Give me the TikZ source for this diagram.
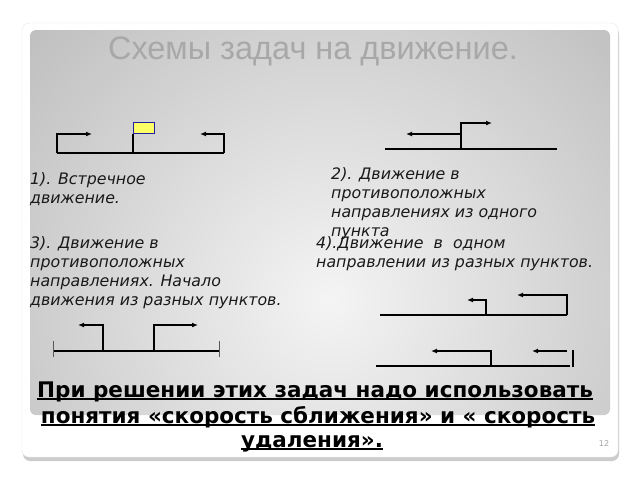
\documentclass[tikz,border=0pt]{standalone}
\usepackage{fontspec}
\setmainfont{DejaVu Sans}[ItalicFont={DejaVu Sans Oblique},BoldFont={DejaVu Sans Bold},BoldItalicFont={DejaVu Sans Bold Oblique}]
\newfontfamily\titlefont{Liberation Sans}
\usetikzlibrary{arrows.meta}
\definecolor{panelout}{HTML}{A3A3A3}
\definecolor{panelin}{HTML}{F4F4F4}
\definecolor{titlegray}{HTML}{A8A8A8}
\definecolor{flagyellow}{HTML}{FFFF66}
\definecolor{flagblue}{HTML}{2020A0}
\newcommand\myul[1]{\setbox0\hbox{#1}\rlap{\rule[-3pt]{\wd0}{1.7pt}}\box0}
\begin{document}
\begin{tikzpicture}[x=1pt,y=-1pt,
  track/.style={line width=1.5pt,black},
  arr/.style={track,-{Latex[length=6pt,width=5pt]}},
  tick/.style={line width=1pt,gray!70!black},
  lbl/.style={font=\fontsize{15.8}{19}\selectfont\itshape,anchor=base west,align=left,inner sep=0pt,text=black!90},
  concl/.style={font=\fontsize{21.5}{25}\selectfont\bfseries,anchor=base,align=center,inner sep=0pt}]
\useasboundingbox (0,0) rectangle (640,480);
\fill[white] (0,0) rectangle (640,480);
% slide card with shadow
\fill[gray!40,rounded corners=7pt] (23,27) rectangle (619,461);
\draw[gray!18,fill=white,rounded corners=7pt] (22,23) rectangle (618,457);
\begin{scope}
  \clip[rounded corners=6pt] (30,30) rectangle (610,415);
  \shade[inner color=panelin,outer color=panelout] (330,300) circle (620);
\end{scope}
% title
\node[font=\titlefont\fontsize{32.5}{34}\selectfont,text=titlegray,inner sep=0pt] (title) at (313,51) {Схемы задач на движение.};

% ---- diagram 1
\coordinate (d1a) at (57,153);
\coordinate (d1b) at (57,134);
\coordinate (d1c) at (92,134);
\coordinate (d1m) at (133,153);
\coordinate (d1e) at (224,153);
\coordinate (d1f) at (224,134);
\coordinate (d1g) at (200,134);
\node[draw=flagblue,fill=flagyellow,line width=1pt,minimum width=21pt,minimum height=11pt,inner sep=0pt,anchor=south west] (flag) at (133,134) {};
\draw[track] (d1a) -- (d1e);
\draw[arr] (d1a) -- (d1b) -- (d1c);
\draw[arr] (d1e) -- (d1f) -- (d1g);
\draw[track] (d1m) -- (flag.south west);

% ---- diagram 2
\coordinate (d2a) at (385,149);
\coordinate (d2b) at (557,149);
\coordinate (d2m) at (461,149);
\coordinate (d2t) at (461,123);
\coordinate (d2r) at (492,123);
\coordinate (d2k) at (461,134);
\coordinate (d2l) at (406,134);
\draw[track] (d2a) -- (d2b);
\draw[arr] (d2m) -- (d2t) -- (d2r);
\draw[arr] (d2k) -- (d2l);

% ---- diagram 3
\coordinate (d3a) at (53,351);
\coordinate (d3b) at (219,351);
\coordinate (d3p) at (103,351);
\coordinate (d3q) at (103,325);
\coordinate (d3r) at (78,325);
\coordinate (d3s) at (154,351);
\coordinate (d3t) at (154,325);
\coordinate (d3u) at (198,325);
\draw[track] (d3a) -- (d3b);
\draw[tick] ([yshift=-6pt]d3a) -- ([yshift=10pt]d3a);
\draw[tick] ([yshift=-6pt]d3b) -- ([yshift=10pt]d3b);
\draw[arr] (d3p) -- (d3q) -- (d3r);
\draw[arr] (d3s) -- (d3t) -- (d3u);

% ---- diagram 4 upper
\coordinate (d4a) at (380,315);
\coordinate (d4b) at (567,315);
\coordinate (d4p) at (486,315);
\coordinate (d4q) at (486,300);
\coordinate (d4r) at (467,300);
\coordinate (d4s) at (567,295);
\coordinate (d4t) at (517,295);
\draw[track] (d4a) -- (d4b);
\draw[arr] (d4p) -- (d4q) -- (d4r);
\draw[arr] (d4b) -- (d4s) -- (d4t);
% ---- diagram 4 lower
\coordinate (d5a) at (376,366);
\coordinate (d5b) at (570,366);
\coordinate (d5p) at (491,366);
\coordinate (d5q) at (491,351);
\coordinate (d5r) at (431,351);
\coordinate (d5s) at (567,351);
\coordinate (d5t) at (532,351);
\coordinate (d5u) at (573,350);
\coordinate (d5v) at (573,367);
\draw[track] (d5a) -- (d5b);
\draw[arr] (d5p) -- (d5q) -- (d5r);
\draw[arr] (d5s) -- (d5t);
\draw[track] (d5u) -- (d5v);

% ---- labels (anchor = baseline of last line)
\node[lbl] (t1) at (30,203) {1). Встречное\\движение.};
\node[lbl] (t2) at (331,236) {2). Движение в\\противоположных\\направлениях из одного\\пункта};
\node[lbl] (t3) at (30,305) {3). Движение в\\противоположных\\направлениях. Начало\\движения из разных пунктов.};
\node[lbl] (t4) at (316,267) {4).Движение\ \ в\ \ одном\\направлении из разных пунктов.};

% ---- conclusion
\node[concl] (c1) at (315,397) {\myul{При решении этих задач надо использовать}};
\node[concl] (c2) at (318,423) {\myul{понятия «скорость сближения» и « скорость}};
\node[concl] (c3) at (312,447) {\myul{удаления».}};

\node[font=\fontsize{8}{9}\selectfont,text=gray!70,inner sep=0pt] (pg) at (604,444) {12};
\end{tikzpicture}
\end{document}
